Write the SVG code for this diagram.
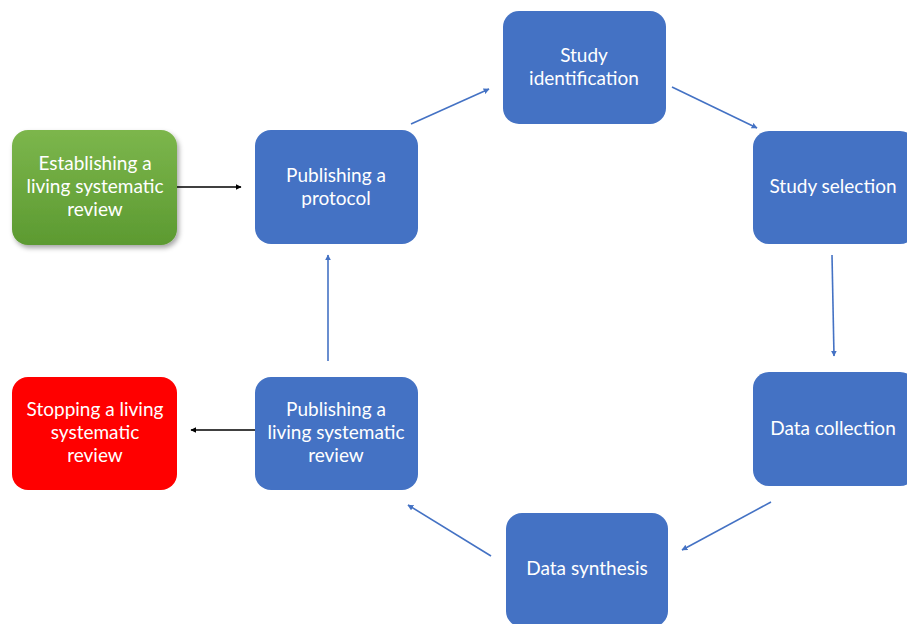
<svg xmlns="http://www.w3.org/2000/svg" width="907" height="624" viewBox="0 0 907 624">
<defs>
<linearGradient id="g" x1="0" y1="0" x2="0" y2="1">
<stop offset="0" stop-color="#7cb64c"/>
<stop offset="1" stop-color="#5c9a31"/>
</linearGradient>
<filter id="sh" x="-10%" y="-10%" width="125%" height="125%">
<feDropShadow dx="2" dy="3" stdDeviation="2.5" flood-color="#000" flood-opacity="0.35"/>
</filter>
<marker id="ab" viewBox="0 0 10 10" refX="9" refY="5" markerWidth="6" markerHeight="6" orient="auto" markerUnits="userSpaceOnUse"><path d="M0,0 L10,5 L0,10 z" fill="#4472c4"/></marker>
<marker id="ak" viewBox="0 0 10 10" refX="9" refY="5" markerWidth="6" markerHeight="6" orient="auto" markerUnits="userSpaceOnUse"><path d="M0,0 L10,5 L0,10 z" fill="#000"/></marker>
</defs>
<style>
.n{fill:#4472c4}
text{font-family:Lato,"Open Sans","Liberation Sans",sans-serif;font-size:19px;fill:#fff;text-anchor:middle}
.cb{stroke:#4472c4;stroke-width:1.6;fill:none;marker-end:url(#ab)}
.ck{stroke:#000;stroke-width:1.6;fill:none;marker-end:url(#ak)}
</style>
<rect width="907" height="624" fill="#fff"/>
<g id="connectors">
<line class="ck" x1="177" y1="187" x2="241" y2="187"/>
<line class="cb" x1="411" y1="124" x2="489" y2="89"/>
<line class="cb" x1="672" y1="87" x2="757" y2="128"/>
<line class="cb" x1="832" y1="255" x2="834" y2="356"/>
<line class="cb" x1="771" y1="502" x2="682" y2="550"/>
<line class="cb" x1="491" y1="556" x2="408" y2="505"/>
<line class="cb" x1="328" y1="361" x2="328" y2="255"/>
<line class="ck" x1="255" y1="430" x2="191" y2="430"/>
</g>
<g id="establishing">
<rect x="12" y="130" width="165" height="115" rx="16" fill="url(#g)" filter="url(#sh)"/>
<text x="95" y="170">Establishing a</text>
<text x="95" y="193">living systematic</text>
<text x="95" y="216">review</text>
</g>
<g id="protocol">
<rect class="n" x="255" y="130" width="163" height="114" rx="16"/>
<text x="336" y="182">Publishing a</text>
<text x="336" y="205">protocol</text>
</g>
<g id="identification">
<rect class="n" x="503" y="11" width="163" height="113" rx="16"/>
<text x="584" y="62">Study</text>
<text x="584" y="85">identification</text>
</g>
<g id="selection">
<rect class="n" x="753" y="131" width="163" height="113" rx="16"/>
<text x="833" y="193">Study selection</text>
</g>
<g id="collection">
<rect class="n" x="753" y="372" width="163" height="114" rx="16"/>
<text x="833" y="435">Data collection</text>
</g>
<g id="synthesis">
<rect class="n" x="506" y="513" width="162" height="114" rx="16"/>
<text x="587" y="575">Data synthesis</text>
</g>
<g id="publishing-living">
<rect class="n" x="255" y="377" width="163" height="113" rx="16"/>
<text x="336" y="416">Publishing a</text>
<text x="336" y="439">living systematic</text>
<text x="336" y="462">review</text>
</g>
<g id="stopping">
<rect x="12" y="377" width="165" height="113" rx="16" fill="#ff0000"/>
<text x="95" y="416">Stopping a living</text>
<text x="95" y="439">systematic</text>
<text x="95" y="462">review</text>
</g>
</svg>
